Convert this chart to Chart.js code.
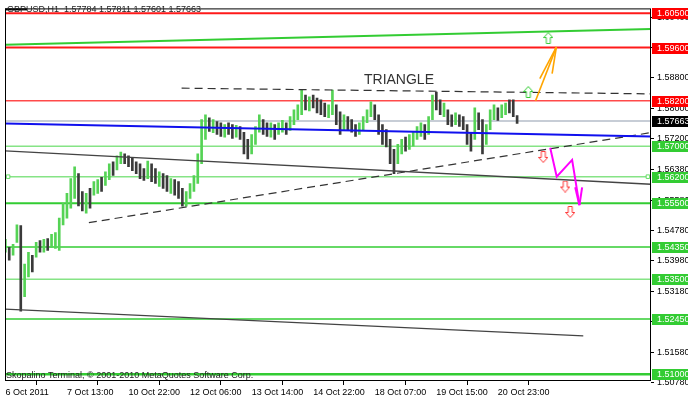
<!DOCTYPE html>
<html><head><meta charset="utf-8">
<script src="https://cdn.jsdelivr.net/npm/chart.js@4.4.1/dist/chart.umd.min.js"></script>
<style>html,body{margin:0;padding:0;background:#fff;overflow:hidden}#wrap{width:688px;height:401px}</style>
</head><body><div id="wrap"><canvas id="c" width="688" height="401"></canvas></div>
<script>
// ---------------- DATA ----------------
const symbolTitle = "GBPUSD,H1  1.57784 1.57811 1.57601 1.57663";
const footerText = "Skopalino Terminal, \u00A9 2001-2010 MetaQuotes Software Corp.";
const annotationText = "TRIANGLE";
const timeLabels = ["6 Oct 2011","7 Oct 13:00","10 Oct 22:00","12 Oct 06:00","13 Oct 14:00","14 Oct 22:00","18 Oct 07:00","19 Oct 15:00","20 Oct 23:00"];
const timeLabelBars = [0,16,32,48,64,80,96,112,128];
const priceTicks = [1.5078,1.5158,1.5238,1.5318,1.5398,1.5478,1.5558,1.5638,1.572,1.580,1.588,1.596,1.604];

const barHigh = [
1.5455,1.5434,1.5442,1.5493,1.5491,1.5390,1.5421,1.5413,1.5447,1.5452,
1.5455,1.5457,1.5468,1.5473,1.5511,1.5550,1.5576,1.5615,1.5646,1.5628,
1.5581,1.5576,1.5589,1.5607,1.5612,1.5618,1.5633,1.5654,1.5659,1.5675,
1.5685,1.5680,1.5675,1.5669,1.5659,1.5654,1.5641,1.5661,1.5654,1.5641,
1.5633,1.5628,1.5623,1.5615,1.5612,1.5607,1.5589,1.5581,1.5602,1.5623,
1.5680,1.5770,1.5783,1.5775,1.5770,1.5765,1.5762,1.5757,1.5762,1.5757,
1.5755,1.5752,1.5737,1.5718,1.5731,1.5752,1.5783,1.5770,1.5762,1.5762,
1.5757,1.5762,1.5768,1.5762,1.5778,1.5796,1.5809,1.5848,1.5835,1.5830,
1.5835,1.5827,1.5822,1.5814,1.5809,1.5848,1.5809,1.5791,1.5783,1.5778,
1.5770,1.5757,1.5762,1.5778,1.5796,1.5817,1.5809,1.5783,1.5757,1.5744,
1.5718,1.5692,1.5705,1.5718,1.5724,1.5731,1.5737,1.5752,1.5762,1.5757,
1.5778,1.5835,1.5843,1.5822,1.5814,1.5796,1.5783,1.5788,1.5783,1.5778,
1.5757,1.5737,1.5801,1.5788,1.5770,1.5757,1.5796,1.5809,1.5801,1.5809,
1.5814,1.5822,1.5822,1.5781];
const barLow = [
1.5421,1.5400,1.5413,1.5447,1.5266,1.5304,1.5356,1.5369,1.5408,1.5421,
1.5421,1.5426,1.5434,1.5431,1.5426,1.5493,1.5511,1.5537,1.5563,1.5543,
1.5530,1.5524,1.5537,1.5571,1.5576,1.5581,1.5597,1.5612,1.5623,1.5638,
1.5654,1.5654,1.5646,1.5636,1.5628,1.5615,1.5610,1.5615,1.5607,1.5602,
1.5594,1.5589,1.5581,1.5576,1.5571,1.5563,1.5542,1.5542,1.5563,1.5581,
1.5602,1.5654,1.5718,1.5739,1.5736,1.5731,1.5726,1.5724,1.5731,1.5721,
1.5724,1.5718,1.5680,1.5667,1.5680,1.5705,1.5737,1.5731,1.5726,1.5724,
1.5718,1.5731,1.5737,1.5731,1.5742,1.5757,1.5770,1.5783,1.5796,1.5793,
1.5801,1.5788,1.5783,1.5778,1.5775,1.5783,1.5757,1.5731,1.5744,1.5744,
1.5737,1.5726,1.5731,1.5744,1.5762,1.5778,1.5770,1.5731,1.5705,1.5698,
1.5654,1.5628,1.5654,1.5680,1.5687,1.5692,1.5700,1.5718,1.5726,1.5718,
1.5731,1.5770,1.5796,1.5783,1.5778,1.5757,1.5752,1.5757,1.5752,1.5744,
1.5705,1.5687,1.5718,1.5744,1.5680,1.5705,1.5744,1.5770,1.5768,1.5775,
1.5783,1.5788,1.5778,1.5760];
const barUp = [
1,0,1,1,0,1,1,0,1,0, 1,0,1,1,1,1,1,1,1,0, 0,1,0,1,1,0,1,1,0,1,
1,0,0,0,0,0,0,1,0,0, 1,0,0,1,0,0,0,1,1,1, 1,1,1,0,1,0,0,1,0,0,
1,0,0,0,1,1,1,0,0,1, 0,1,1,0,1,1,1,1,0,1, 0,0,0,0,1,1,0,0,1,0,
0,0,1,1,1,1,0,0,0,0, 0,0,1,1,0,1,1,1,1,0, 1,1,0,0,1,0,0,1,0,0,
0,0,1,0,0,1,1,1,0,1, 1,0,0,0];

const resistanceLevels = [1.605, 1.596, 1.582];
const supportLevels = [1.570, 1.562, 1.555, 1.5435, 1.535, 1.5245, 1.510];
const lastPrice = 1.57663;

// trendlines: [barIndex, price]
const risingGreenLine = [[-0.1,1.5967],[167.8,1.6009]];
const blueLine        = [[-0.1,1.5760],[167.8,1.5726]];
const triangleTop     = [[45.8,1.5853],[167.8,1.5838]];
const triangleBottom  = [[21.7,1.5499],[167.8,1.5736]];
const upperBlackLine  = [[-0.1,1.5688],[167.8,1.5600]];
const lowerBlackLine  = [[-0.1,1.5271],[150.2,1.5201]];
const orangeShaft     = [[137.8,1.5820],[143.2,1.5961]];
const orangeHeadA     = [[138.9,1.5878],[143.2,1.5961]];
const orangeHeadB     = [[142.1,1.5891],[143.2,1.5961]];
const magentaPath     = [[141.6,1.5696],[143.3,1.5620],[147.3,1.5664],[149.2,1.5545]];
const magentaHeadA    = [[148.1,1.5592],[149.2,1.5545]];
const magentaHeadB    = [[149.9,1.5592],[149.2,1.5545]];
const upSignals       = [[135.9,1.5843],[141.1,1.5985]];
const downSignals     = [[139.8,1.5672],[145.5,1.5594],[146.8,1.5527]];
const levelMarkers    = [[0.7,1.562],[167.0,1.562]];
const annotationPos   = [102.3,1.5874];

// ---------------- RENDER ----------------
const FONT = '"Liberation Sans", Arial, sans-serif';
const XMIN = -0.1, XMAX = 167.8;
const toXY = arr => arr.map(p => ({x:p[0], y:p[1]}));

function arrowIcon(up, color){
  const c = document.createElement('canvas'); c.width = 10; c.height = 12;
  const g = c.getContext('2d');
  g.save();
  if(!up){ g.translate(0,12); g.scale(1,-1); }
  g.beginPath();
  g.moveTo(5,0.5); g.lineTo(9.5,5.5); g.lineTo(7,5.5); g.lineTo(7,11.5);
  g.lineTo(3,11.5); g.lineTo(3,5.5); g.lineTo(0.5,5.5); g.closePath();
  g.fillStyle = '#fff'; g.fill();
  g.strokeStyle = color; g.lineWidth = 1; g.stroke();
  g.restore();
  return c;
}

const datasets = [];
const hline = (v, color, w, order) => datasets.push({type:'line', data:[{x:XMIN,y:v},{x:XMAX,y:v}],
  borderColor:color, borderWidth:w, pointRadius:0, order:order});

resistanceLevels.forEach((v,i)=> hline(v, i<2 ? '#ff1a1a' : '#ff4a4a', i<2 ? 2 : 1.5, 20));
const supportStyle = [['#86e486',1.5],['#86e486',1.5],['#33cc33',2],['#33cc33',1.5],['#86e486',1.5],['#33cc33',1.5],['#33cc33',2.5]];
supportLevels.forEach((v,i)=> hline(v, supportStyle[i][0], supportStyle[i][1], 20));
hline(lastPrice, '#b4bcc8', 1.5, 19);

datasets.push({type:'bar', data: barHigh.map((h,i)=>({x:i, y:[barLow[i], h]})),
  backgroundColor: barUp.map(u => u ? '#55d355' : '#3a3a3a'), barThickness:2, order:10, grouped:false});

const tl = (pts, color, w, dash, order) => datasets.push({type:'line', data:toXY(pts), borderColor:color,
  borderWidth:w, borderDash:dash||[], pointRadius:0, order:order||5, tension:0});
tl(risingGreenLine, '#33cc33', 2);
tl(blueLine, '#1010ee', 2);
tl(triangleTop, '#333', 1.2, [8,5]);
tl(triangleBottom, '#333', 1.2, [8,5]);
tl(upperBlackLine, '#444', 1.3);
tl(lowerBlackLine, '#444', 1.3);
tl(orangeShaft, '#ffa500', 1.6, null, 3);
tl(orangeHeadA, '#ffa500', 1.6, null, 3);
tl(orangeHeadB, '#ffa500', 1.6, null, 3);
tl(magentaPath, '#ff00ff', 2, null, 3);
tl(magentaHeadA, '#ff00ff', 2, null, 3);
tl(magentaHeadB, '#ff00ff', 2, null, 3);

datasets.push({type:'line', data:toXY(upSignals), showLine:false, pointStyle:arrowIcon(true,'#33cc33'), order:1});
datasets.push({type:'line', data:toXY(downSignals), showLine:false, pointStyle:arrowIcon(false,'#ff3333'), order:1});
datasets.push({type:'line', data:toXY(levelMarkers), showLine:false, pointStyle:'rect', pointRadius:2.5,
  pointBackgroundColor:'#fff', pointBorderColor:'#66dd66', pointBorderWidth:1, order:1});

const decor = {
  id:'decor',
  afterDatasetsDraw(chart){
    const {ctx, chartArea:a, scales:{x,y}} = chart;
    ctx.save();
    ctx.strokeStyle = '#000'; ctx.lineWidth = 1;
    ctx.strokeRect(a.left+0.5, a.top+0.5, a.right-a.left-1, a.bottom-a.top-1);
    ctx.fillStyle = '#000'; ctx.fillRect(a.left, a.top, 22, 2);
    ctx.font = '9px ' + FONT; ctx.textBaseline = 'middle'; ctx.fillStyle = '#222';
    ctx.fillText(symbolTitle, 7, 10);
    ctx.fillText(footerText, 6, 376);
    ctx.font = '14px ' + FONT; ctx.fillStyle = '#333'; ctx.textAlign = 'center';
    ctx.fillText(annotationText, x.getPixelForValue(annotationPos[0]), y.getPixelForValue(annotationPos[1]));
    ctx.restore();
  },
  afterDraw(chart){
    const {ctx, chartArea:a, scales:{y}} = chart;
    ctx.save();
    ctx.font = '9px ' + FONT; ctx.textBaseline = 'middle';
    const box = (v, bg) => {
      const py = Math.round(y.getPixelForValue(v));
      ctx.fillStyle = bg; ctx.fillRect(a.right+1, py-5, 688-a.right-1, 11);
      ctx.fillStyle = '#fff'; ctx.fillText(v.toFixed(5), a.right+6, py+0.5);
    };
    resistanceLevels.forEach(v=>box(v,'#ff0000'));
    supportLevels.forEach(v=>box(v,'#33cc33'));
    box(lastPrice,'#000');
    ctx.restore();
  }
};

new Chart(document.getElementById('c'), {
  type:'line',
  data:{datasets},
  options:{
    responsive:false, animation:false, events:[],
    layout:{padding:{left:3, top:2, right:0, bottom:0}},
    plugins:{legend:{display:false}, tooltip:{enabled:false}},
    scales:{
      x:{type:'linear', min:XMIN, max:XMAX, offset:false,
        afterFit(s){ s.height = 20; },
        afterBuildTicks(s){ s.ticks = timeLabelBars.map(v=>({value:v})); },
        grid:{drawOnChartArea:false, drawTicks:true, tickLength:4, color:'#000'},
        border:{display:false},
        ticks:{align:'start', maxRotation:0, autoSkip:false, padding:2, color:'#000', font:{family:FONT, size:9},
          callback:(v)=> timeLabels[timeLabelBars.indexOf(v)]}},
      y:{type:'linear', position:'right', min:1.5082, max:1.6063,
        afterFit(s){ s.width = 37; },
        afterBuildTicks(s){ s.ticks = priceTicks.map(v=>({value:v})); },
        grid:{drawOnChartArea:false, drawTicks:true, tickLength:3, color:'#000'},
        border:{display:false},
        ticks:{padding:3, color:'#000', font:{family:FONT, size:9}, callback:(v)=>v.toFixed(5)}}
    }
  },
  plugins:[decor]
});
</script></body></html>
